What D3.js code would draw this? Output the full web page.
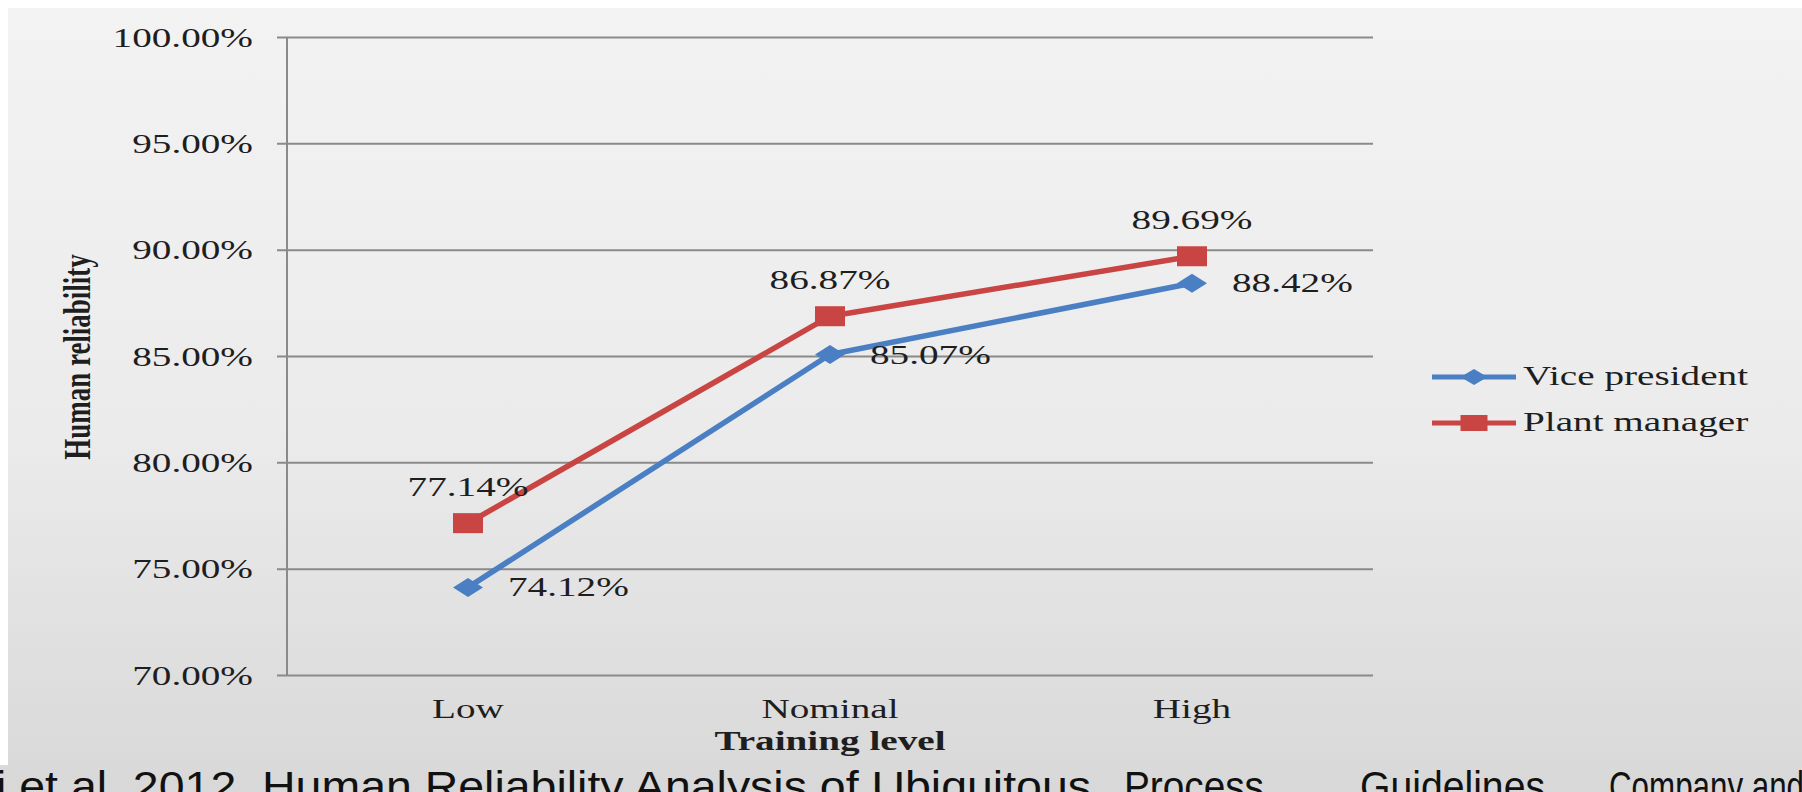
<!DOCTYPE html>
<html>
<head>
<meta charset="utf-8">
<script src="https://cdn.jsdelivr.net/npm/d3@7"></script>
<style>
  html, body { margin: 0; padding: 0; background: #ffffff; }
  svg { display: block; }
</style>
</head>
<body>
<svg id="chart" width="1802" height="792"></svg>
<script>
// ---- data ----
const categories = ["Low", "Nominal", "High"];
const vicePresident = [74.12, 85.07, 88.42];
const plantManager = [77.14, 86.87, 89.69];
const yTicks = [70, 75, 80, 85, 90, 95, 100];
const seriesNames = ["Vice president", "Plant manager"];
const xTitle = "Training level";
const yTitle = "Human reliability";
const captionWords = ["i et al. 2012. Human Reliability Analysis of Ubiquitous", "Process", "Guidelines", "Company and"];

// ---- layout ----
const W = 1802, H = 792;
const plot = { left: 287, right: 1373, top: 37, bottom: 675 };
const SX = 1.4;            // horizontal stretch of the original picture
const FS = 28;             // font size of chart texts
const serif = "'Liberation Serif', 'Times New Roman', serif";
const blue = "#4a7fc3", red = "#c94543", grid = "#8a8a8a", ink = "#1e1e1e";

const svg = d3.select("#chart");

// background
const defs = svg.append("defs");
const grad = defs.append("linearGradient").attr("id", "bg").attr("x1", 0).attr("y1", 0).attr("x2", 0).attr("y2", 1);
grad.append("stop").attr("offset", "0%").attr("stop-color", "#f3f3f3");
grad.append("stop").attr("offset", "55%").attr("stop-color", "#ebebeb");
grad.append("stop").attr("offset", "100%").attr("stop-color", "#d8d8d8");
svg.append("rect").attr("width", W).attr("height", H).attr("fill", "url(#bg)");
svg.append("rect").attr("x", 0).attr("y", 0).attr("width", W).attr("height", 8).attr("fill", "#ffffff");
svg.append("rect").attr("x", 0).attr("y", 0).attr("width", 8).attr("height", 765).attr("fill", "#ffffff");

// scales
const x = d3.scalePoint().domain(categories).range([plot.left, plot.right]).padding(0.5);
const y = d3.scaleLinear().domain([70, 100]).range([plot.bottom, plot.top]);
const fmt = d => d3.format(".2f")(d) + "%";

// gridlines via axis
const gAxis = svg.append("g").attr("transform", `translate(${plot.left},0)`)
  .call(d3.axisLeft(y).tickValues(yTicks).tickSize(-(plot.right - plot.left)).tickFormat(""));
gAxis.select(".domain").remove();
gAxis.selectAll(".tick line").attr("x1", -10).attr("stroke", grid).attr("stroke-width", 2);

// vertical axis line
svg.append("line").attr("x1", plot.left).attr("x2", plot.left)
  .attr("y1", y(100)).attr("y2", y(70)).attr("stroke", grid).attr("stroke-width", 2);

// y tick labels
svg.append("g").selectAll("text").data(yTicks).join("text")
  .attr("transform", d => `translate(253,${y(d)}) scale(${SX},1)`)
  .attr("dy", "0.34em").attr("text-anchor", "end")
  .attr("font-family", serif).attr("font-size", FS).attr("fill", ink)
  .text(fmt);

// x labels
svg.append("g").selectAll("text").data(categories).join("text")
  .attr("transform", d => `translate(${x(d)},718) scale(${SX},1)`)
  .attr("text-anchor", "middle")
  .attr("font-family", serif).attr("font-size", FS).attr("fill", ink)
  .text(d => d);

// axis titles
svg.append("text")
  .attr("transform", `translate(${(plot.left + plot.right) / 2},750) scale(${SX},1)`)
  .attr("text-anchor", "middle").attr("font-family", serif).attr("font-weight", "bold")
  .attr("font-size", FS).attr("fill", ink).text(xTitle);
svg.append("text")
  .attr("transform", `translate(90,${(plot.top + plot.bottom) / 2 + 1}) scale(${SX},1) rotate(-90)`)
  .attr("text-anchor", "middle").attr("font-family", serif).attr("font-weight", "bold")
  .attr("font-size", 27).attr("fill", ink).text(yTitle);

// series
const series = [
  { name: seriesNames[0], values: vicePresident, color: blue, shape: "diamond" },
  { name: seriesNames[1], values: plantManager, color: red, shape: "square" }
];
const line = d3.line().x((d, i) => x(categories[i])).y(d => y(d));
const markerPath = (shape, w, h) => shape === "square"
  ? `M${-w / 2},${-h / 2}H${w / 2}V${h / 2}H${-w / 2}Z`
  : `M0,${-h / 2}L${w / 2},0L0,${h / 2}L${-w / 2},0Z`;

series.forEach(s => {
  svg.append("path").datum(s.values).attr("d", line)
    .attr("fill", "none").attr("stroke", s.color).attr("stroke-width", 5.5).attr("stroke-linejoin", "round");
  svg.append("g").selectAll("path").data(s.values).join("path")
    .attr("transform", (d, i) => `translate(${x(categories[i])},${y(d)})`)
    .attr("d", s.shape === "square" ? markerPath("square", 30, 20) : markerPath("diamond", 30, 19))
    .attr("fill", s.color);
});

// data labels
svg.append("g").selectAll("text").data(plantManager).join("text")
  .attr("transform", (d, i) => `translate(${x(categories[i])},${y(d) - 27}) scale(${SX},1)`)
  .attr("text-anchor", "middle").attr("font-family", serif).attr("font-size", FS).attr("fill", ink)
  .text(fmt);
svg.append("g").selectAll("text").data(vicePresident).join("text")
  .attr("transform", (d, i) => `translate(${x(categories[i]) + 40},${y(d) + 9}) scale(${SX},1)`)
  .attr("text-anchor", "start").attr("font-family", serif).attr("font-size", FS).attr("fill", ink)
  .text(fmt);

// legend
const legend = svg.append("g").attr("transform", "translate(1432,377)");
series.forEach((s, i) => {
  const g = legend.append("g").attr("transform", `translate(0,${i * 46})`);
  g.append("line").attr("x1", 0).attr("x2", 84).attr("stroke", s.color).attr("stroke-width", 5);
  g.append("path").attr("transform", "translate(42,0)")
    .attr("d", s.shape === "square" ? markerPath("square", 27, 16) : markerPath("diamond", 27, 16))
    .attr("fill", s.color);
  g.append("text").attr("transform", `translate(91,8) scale(${SX},1)`)
    .attr("font-family", serif).attr("font-size", FS).attr("fill", ink).text(s.name);
});

// caption (cut at the bottom of the picture)
const captionX = [-4, 1124, 1360, 1609];
const captionLen = [1095, 140, 185, 195];
svg.append("g").selectAll("text").data(captionWords).join("text")
  .attr("x", (d, i) => captionX[i]).attr("y", 801)
  .attr("textLength", (d, i) => captionLen[i]).attr("lengthAdjust", "spacingAndGlyphs")
  .attr("font-family", "'Liberation Sans', Arial, sans-serif").attr("font-size", 42).attr("fill", "#111")
  .text(d => d);
</script>
</body>
</html>
